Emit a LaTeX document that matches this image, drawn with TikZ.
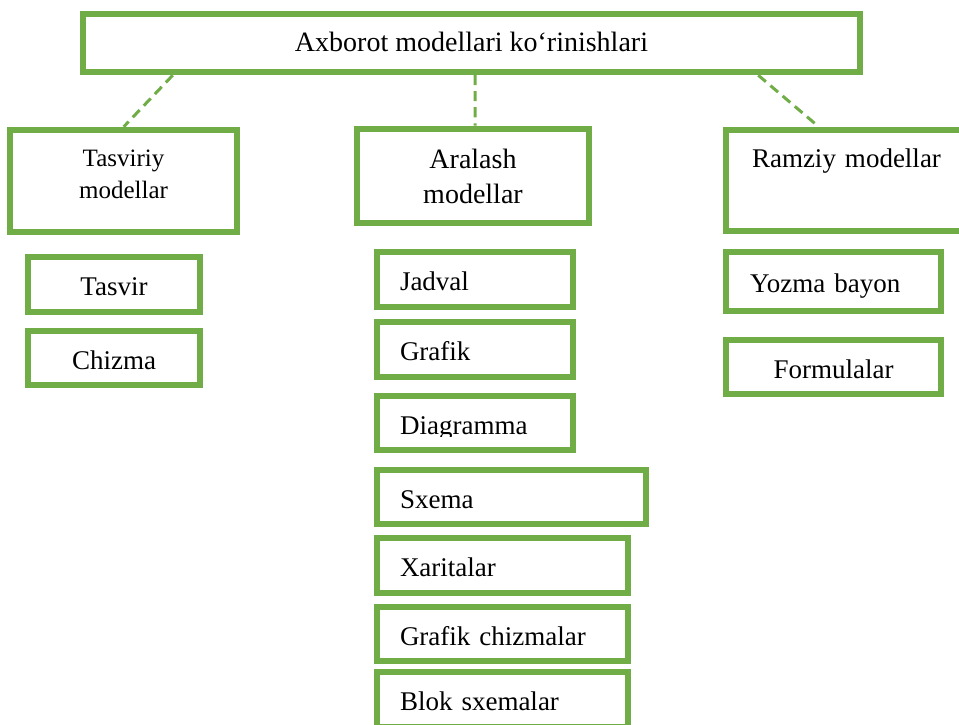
\documentclass[tikz,border=0pt]{standalone}
\usepackage{fontspec}
\setmainfont{Liberation Serif}
\definecolor{leafgreen}{HTML}{70AD47}
\begin{document}
\begin{tikzpicture}[x=1bp,y=-1bp,
  box/.style={draw=leafgreen, line width=6.5bp, rectangle, inner sep=0pt,
    text height=22bp, text depth=0bp, align=center,
    font=\fontsize{27bp}{33bp}\selectfont},
  leftbox/.style={box, align=left, inner xsep=#1},
  link/.style={draw=leafgreen, line width=3bp, dash pattern=on 10bp off 6bp}
]
\clip (0,0) rectangle (959,725);

% root
\node[box, font=\fontsize{28bp}{34bp}\selectfont, text height=18bp,
  minimum width=777bp, minimum height=58bp] (root) at (471.5,43)
  {Axborot modellari ko‘rinishlari};

% three groups
\node[box, font=\fontsize{25bp}{31bp}\selectfont, text height=34bp,
  minimum width=227bp, minimum height=102bp] (tasv) at (123.5,181)
  {Tasviriy\\modellar};
\node[box, font=\fontsize{28bp}{35bp}\selectfont, text height=54bp,
  minimum width=232bp, minimum height=94bp] (aral) at (473,176)
  {Aralash\\modellar};
\node[leftbox=26bp, text width=191bp, text height=0bp, text depth=25bp,
  minimum width=243bp, minimum height=101bp] (ramz) at (847.5,180.5)
  {Ramziy modellar};

% left column
\node[box, minimum width=172bp, minimum height=55bp] (tasvir) at (114,284.5) {Tasvir};
\node[box, minimum width=172bp, minimum height=54bp] (chizma) at (114,358) {Chizma};

% right column
\node[leftbox=24bp, text width=167bp, minimum width=215bp, minimum height=59bp]
  (yozma) at (833.5,281.5) {Yozma bayon};
\node[box, minimum width=215bp, minimum height=54bp] (formula) at (833.5,367) {Formulalar};

% middle column
\node[leftbox=23bp, text width=150bp, minimum width=196bp, minimum height=55bp]
  (jadval) at (475,279.5) {Jadval};
\node[leftbox=23bp, text width=150bp, minimum width=196bp, minimum height=55bp]
  (grafik) at (475,349.5) {Grafik};
\node[box, minimum width=196bp, minimum height=54bp] (diag) at (475,423) {};
\begin{scope}
  \clip (377,396) rectangle (573,436);
  \node[anchor=base west, inner sep=0pt, font=\fontsize{27bp}{33bp}\selectfont]
    (diaglabel) at (400,434) {Diagramma};
\end{scope}
\node[leftbox=23bp, text width=223bp, minimum width=269bp, minimum height=54bp]
  (sxema) at (511.5,497) {Sxema};
\node[leftbox=23bp, text width=205bp, minimum width=251bp, minimum height=55bp]
  (xarita) at (502.5,565.5) {Xaritalar};
\node[leftbox=23bp, text width=205bp, minimum width=251bp, minimum height=54bp]
  (grafch) at (502.5,634) {Grafik chizmalar};
\node[leftbox=23bp, text width=205bp, minimum width=251bp, minimum height=55bp]
  (blok) at (502.5,699.5) {Blok sxemalar};

% dashed links from the root
\draw[link] ([xshift=93bp]root.south west) -- ([xshift=117bp]tasv.north west);
\draw[link] ([xshift=3.5bp]root.south) -- ([xshift=2bp]aral.north);
\draw[link] ([xshift=-105bp]root.south east) -- ([xshift=96bp]ramz.north west);
\end{tikzpicture}
\end{document}
